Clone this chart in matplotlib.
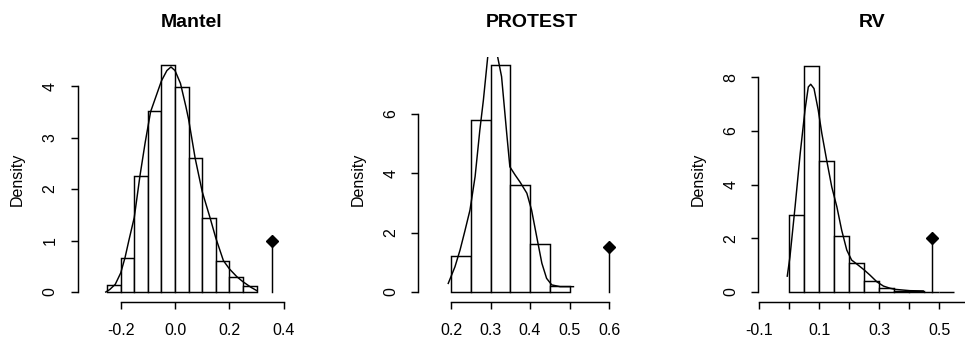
import numpy as np
import matplotlib
matplotlib.use("Agg")
import matplotlib.pyplot as plt

plt.rcParams['font.family'] = ['Liberation Sans', 'DejaVu Sans']

# ---- Mantel permutation distribution ----
mantel_breaks = [-0.25, -0.20, -0.15, -0.10, -0.05, 0.00, 0.05, 0.10, 0.15, 0.20, 0.25, 0.30]
mantel_density = [0.14, 0.67, 2.26, 3.51, 4.40, 3.99, 2.60, 1.44, 0.61, 0.30, 0.12]
mantel_kde_x = [-0.255, -0.24, -0.22, -0.20, -0.184, -0.17, -0.15, -0.129, -0.11, -0.09,
                -0.07, -0.05, -0.03, -0.015, 0.00, 0.02, 0.04, 0.05, 0.074, 0.10,
                0.129, 0.15, 0.178, 0.20, 0.227, 0.25, 0.28, 0.30]
mantel_kde_y = [0.00, 0.05, 0.15, 0.37, 0.67, 1.00, 1.45, 2.26, 2.90, 3.50,
                3.80, 4.10, 4.30, 4.37, 4.30, 4.05, 3.60, 3.35, 2.60, 1.95,
                1.44, 1.05, 0.61, 0.45, 0.30, 0.20, 0.09, 0.03]
mantel_obs = 0.357
mantel_obs_height = 1.0

# ---- PROTEST permutation distribution ----
protest_breaks = [0.20, 0.25, 0.30, 0.35, 0.40, 0.45, 0.50]
protest_density = [1.22, 5.79, 7.64, 3.60, 1.62, 0.20]
protest_kde_x = [0.193, 0.21, 0.223, 0.235, 0.248, 0.261, 0.273, 0.282, 0.293, 0.305,
                 0.318, 0.328, 0.341, 0.349, 0.362, 0.375, 0.392, 0.404, 0.417, 0.430,
                 0.442, 0.455, 0.476, 0.51]
protest_kde_y = [0.29, 0.85, 1.42, 2.05, 2.76, 3.89, 5.46, 6.47, 7.93, 9.00,
                 7.93, 7.26, 5.35, 4.22, 3.95, 3.70, 3.33, 2.76, 1.86, 0.97,
                 0.46, 0.24, 0.18, 0.18]
protest_obs = 0.60
protest_obs_height = 1.5

# ---- RV permutation distribution ----
rv_breaks = [0.00, 0.05, 0.10, 0.15, 0.20, 0.25, 0.30, 0.35, 0.40, 0.45, 0.50, 0.55]
rv_density = [2.87, 8.41, 4.89, 2.07, 1.08, 0.40, 0.15, 0.05, 0.04, 0.00, 0.00]
rv_kde_x = [-0.006, 0.003, 0.020, 0.037, 0.053, 0.064, 0.072, 0.083, 0.097, 0.109,
            0.125, 0.142, 0.159, 0.175, 0.192, 0.208, 0.230, 0.250, 0.269, 0.292,
            0.314, 0.336, 0.352, 0.402, 0.446]
rv_kde_y = [0.59, 1.31, 3.17, 5.15, 6.77, 7.63, 7.73, 7.57, 6.77, 5.90,
            4.91, 3.91, 3.17, 2.30, 1.56, 1.19, 1.00, 0.82, 0.63, 0.38,
            0.22, 0.14, 0.10, 0.05, 0.04]
rv_obs = 0.476
rv_obs_height = 2.0

titles = ["Mantel", "PROTEST", "RV"]

mantel_xticks = [-0.2, 0.0, 0.2, 0.4]
mantel_xlabels = ["-0.2", "0.0", "0.2", "0.4"]
protest_xticks = [0.2, 0.3, 0.4, 0.5, 0.6]
protest_xlabels = ["0.2", "0.3", "0.4", "0.5", "0.6"]
rv_xticks = [-0.1, 0.0, 0.1, 0.2, 0.3, 0.4, 0.5, 0.6]
rv_xlabels = ["-0.1", "", "0.1", "", "0.3", "", "0.5", ""]

mantel_yticks = [0, 1, 2, 3, 4]
protest_yticks = [0, 2, 4, 6]
rv_yticks = [0, 2, 4, 6, 8]

W, H = 965, 338
DPI = 100
fig = plt.figure(figsize=(W / DPI, H / DPI), dpi=DPI)
fig.patch.set_facecolor("white")

panels = [
    dict(breaks=mantel_breaks, dens=mantel_density, kx=mantel_kde_x, ky=mantel_kde_y,
         obs=mantel_obs, oh=mantel_obs_height, xt=mantel_xticks, xl=mantel_xlabels,
         yt=mantel_yticks, left=77.7, xlim=(-0.3583, 0.481), ylim=(-0.184, 4.573)),
    dict(breaks=protest_breaks, dens=protest_density, kx=protest_kde_x, ky=protest_kde_y,
         obs=protest_obs, oh=protest_obs_height, xt=protest_xticks, xl=protest_xlabels,
         yt=protest_yticks, left=418.3, xlim=(0.1172, 0.6944), ylim=(-0.320, 7.937)),
    dict(breaks=rv_breaks, dens=rv_density, kx=rv_kde_x, ky=rv_kde_y,
         obs=rv_obs, oh=rv_obs_height, xt=rv_xticks, xl=rv_xlabels,
         yt=rv_yticks, left=758.3, xlim=(-0.1023, 0.656), ylim=(-0.353, 8.763)),
]

ax_w, top_px, bot_px = 228.0, 56.5, 301.5
lw = 1.05
fs = 11.5

for title, p in zip(titles, panels):
    ax = fig.add_axes([p["left"] / W, (H - bot_px) / H, ax_w / W, (bot_px - top_px) / H])
    ax.set_facecolor("none")
    edges = np.asarray(p["breaks"])
    ax.bar(edges[:-1], p["dens"], width=np.diff(edges), align="edge",
           facecolor="white", edgecolor="black", linewidth=lw, zorder=2)
    ax.plot(p["kx"], p["ky"], color="black", linewidth=lw, zorder=3)
    ax.plot([p["obs"], p["obs"]], [0, p["oh"]], color="black", linewidth=lw, zorder=3)
    ax.plot([p["obs"]], [p["oh"]], marker="D", markersize=6.0, color="black",
            markeredgewidth=1.0, zorder=4, clip_on=False)

    ax.set_xlim(*p["xlim"])
    ax.set_ylim(*p["ylim"])
    for s in ("top", "right"):
        ax.spines[s].set_visible(False)
    for s in ("left", "bottom"):
        ax.spines[s].set_linewidth(lw)
    ax.spines["left"].set_bounds(p["yt"][0], p["yt"][-1])
    ax.spines["bottom"].set_bounds(p["xt"][0], p["xt"][-1])

    ax.set_xticks(p["xt"])
    ax.set_xticklabels(p["xl"])
    ax.set_yticks(p["yt"])
    ax.set_yticklabels([str(v) for v in p["yt"]], rotation=90, va="center")
    ax.tick_params(axis="both", direction="out", length=5, width=lw,
                   labelsize=fs, colors="black")
    ax.tick_params(axis="x", pad=10.5)
    ax.tick_params(axis="y", pad=9.5)

    ax.text(-60.5 / ax_w, 0.5, "Density", transform=ax.transAxes, rotation=90,
            ha="center", va="center", fontsize=fs)
    ax.text(0.5, 1 + 34.0 / (bot_px - top_px), title, transform=ax.transAxes,
            ha="center", va="center", fontsize=14, fontweight="bold")

fig.savefig("out.png", dpi=DPI)
